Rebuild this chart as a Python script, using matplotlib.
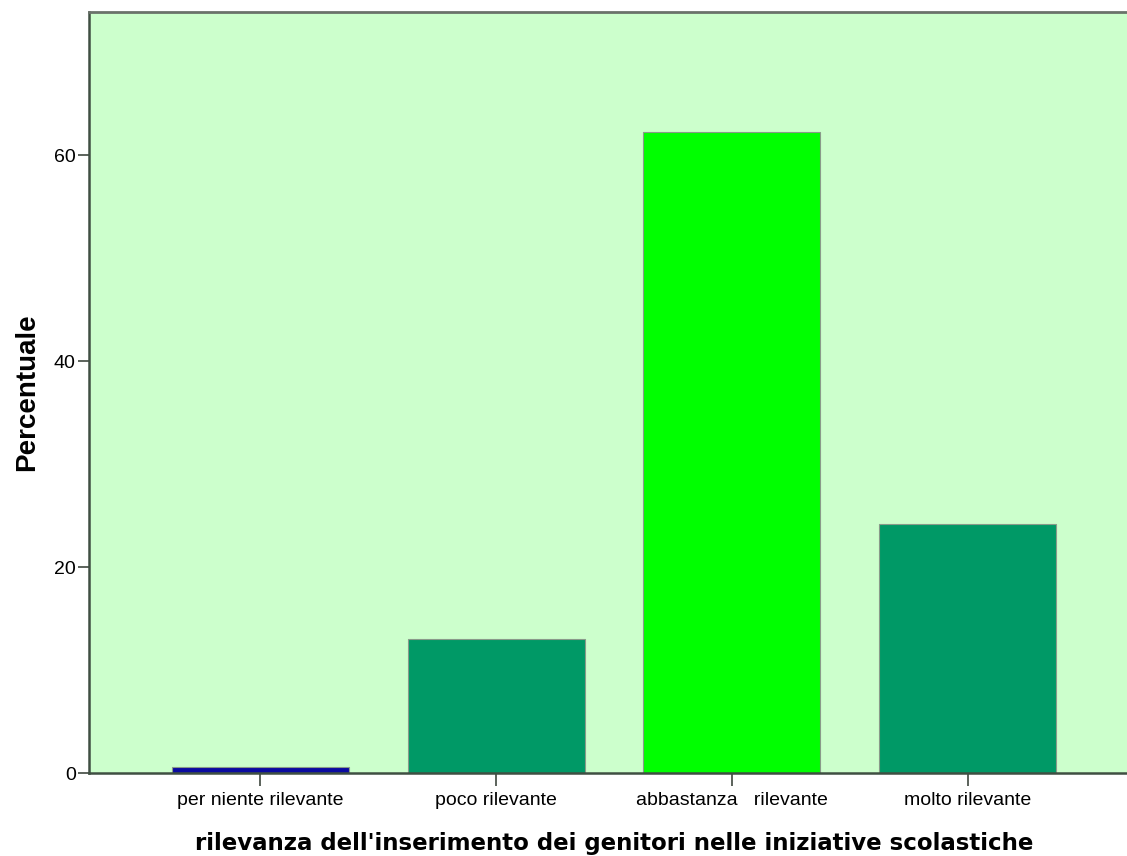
import numpy as np
import matplotlib.pyplot as plt

# dati
categorie = ["per niente rilevante", "poco rilevante", "abbastanza   rilevante", "molto rilevante"]
percentuali = [0.6, 13.0, 62.2, 24.2]
colori = ["#0a0aa0", "#009966", "#00ff00", "#009966"]
yticks = [0, 20, 40, 60]

fig = plt.figure(figsize=(11.27, 8.56), dpi=100)
# l'area del grafico esce un po' dal bordo destro, come nell'originale
ax = fig.add_axes([89 / 1127, 83 / 856, 1050 / 1127, 761 / 856])
ax.set_facecolor("#ccffcc")

x = np.arange(1, len(categorie) + 1)
ax.bar(x, percentuali, width=0.75, color=colori, edgecolor="#8a9a8a", linewidth=0.8)

ax.set_xlim(0.275, 4.725)
ax.set_ylim(0, 73.9)
ax.set_xticks(x)
ax.set_xticklabels(categorie, fontsize=14, family="Liberation Sans")
ax.set_yticks(yticks)
ax.set_yticklabels([str(v) for v in yticks], fontsize=14, family="Liberation Sans")
ax.tick_params(axis="x", length=9, width=1.2, color="#404840", pad=5)
ax.tick_params(axis="y", length=8, width=1.2, color="#404840", pad=1.5)

for s in ["left", "bottom"]:
    ax.spines[s].set_color("#3f4f42")
    ax.spines[s].set_linewidth(1.8)
ax.spines["top"].set_color("#6a726a")
ax.spines["top"].set_linewidth(2)
ax.spines["right"].set_visible(False)

ax.set_ylabel("Percentuale", fontsize=20, fontweight="bold", family="Liberation Sans")
ax.yaxis.set_label_coords(-0.047, 0.5)
ax.set_xlabel("rilevanza dell'inserimento dei genitori nelle iniziative scolastiche",
              fontsize=16.5, fontweight="bold", family="DejaVu Sans")
ax.xaxis.set_label_coords(0.5, -0.0775)

fig.savefig("out.png", dpi=100)
